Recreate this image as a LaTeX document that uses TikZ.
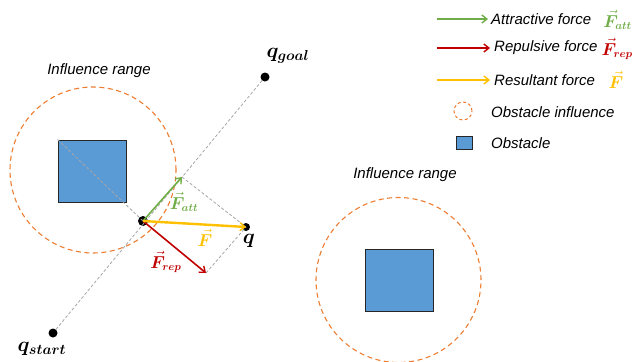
\documentclass[tikz,border=0pt]{standalone}
\usepackage{fontspec}
\usepackage{amsmath,bm}
\setmainfont{Liberation Sans}
\usetikzlibrary{arrows.meta}
\definecolor{attc}{HTML}{70AD47}
\definecolor{repc}{HTML}{C00000}
\definecolor{resc}{HTML}{FFC000}
\definecolor{infc}{HTML}{ED7D31}
\definecolor{obsc}{HTML}{5B9BD5}
\definecolor{guide}{HTML}{A6A6A6}
\tikzset{
  x=1pt, y=-1pt,
  guideline/.style={draw=guide, line width=0.8pt, dash pattern=on 3pt off 2pt},
  influence/.style={draw=infc, line width=1.1pt, dash pattern=on 5pt off 3.5pt},
  obstacle/.style={draw=black!85, line width=1pt, fill=obsc, minimum width=68pt, minimum height=62pt, inner sep=0pt},
  dot/.style={circle, fill=black, inner sep=0pt, minimum size=#1},
  force/.style={line width=1.6pt, -{Straight Barb[length=5pt,width=8pt,line width=1.4pt]}},
  lbl/.style={font=\fontsize{15}{18}\selectfont\itshape, inner sep=0pt},
  vlbl/.style={font=\fontsize{16}{19}\selectfont, inner sep=0pt},
  plbl/.style={font=\fontsize{21}{24}\selectfont, inner sep=0pt},
}
\newcommand{\vF}{\vec{\bm{F}}}
\begin{document}
\begin{tikzpicture}
\useasboundingbox (0,0) rectangle (633,362);

% obstacles and their influence ranges
\node[obstacle] (obsL) at (92,171) {};
\node[obstacle] (obsR) at (399,280) {};
\draw[influence] (93,170) circle[radius=83pt];
\draw[influence] (398.5,280) circle[radius=82.5pt];
\node[lbl] (rangeL) at (99,71) {Influence range};
\node[lbl] (rangeR) at (405,175) {Influence range};

% start, goal, robot and target points
\node[dot=9pt] (start) at (53,333) {};
\node[dot=9pt] (goal) at (265,77) {};
\node[dot=10pt] (rob) at (143,221) {};
\node[dot=8pt] (q) at (246,227) {};
\coordinate (fatt) at (182,177);
\coordinate (frep) at (206,273);

% guide lines
\draw[guideline] (start) -- (goal);
\draw[guideline] (obsL.north west) -- (rob.center);
\draw[guideline] (fatt) -- (q.center);
\draw[guideline] (frep) -- (q.center);

% force vectors
\draw[force, attc] (rob.center) -- (fatt);
\draw[force, repc] (rob.center) -- (frep);
\draw[force, resc, line width=2.4pt] (rob.center) -- (q.center);

% point labels
\node[plbl] (qlab) at (249,241) {$\bm{q}$};
\node[plbl] (qgoal) at (288,56) {$\bm{q}_{\bm{goal}}$};
\node[plbl] (qstart) at (42,349) {$\bm{q}_{\bm{start}}$};
\node[vlbl, text=attc] (latt) at (184,202) {$\vF_{\bm{att}}$};
\node[vlbl, text=resc] (lres) at (205,238) {$\vF$};
\node[vlbl, text=repc] (lrep) at (166,262) {$\vF_{\bm{rep}}$};

% legend
\coordinate (a1) at (437,19);  \coordinate (a2) at (488,19);
\coordinate (r1) at (437,48);  \coordinate (r2) at (490,48);
\coordinate (y1) at (437,80);  \coordinate (y2) at (490,80);
\draw[force, attc, line width=1.3pt] (a1) -- (a2);
\draw[force, repc, line width=1.3pt] (r1) -- (r2);
\draw[force, resc, line width=1.8pt] (y1) -- (y2);
\node[lbl, anchor=west] (tatt) at (491,19) {Attractive force};
\node[lbl, anchor=west] (trep) at (494,48) {Repulsive force};
\node[lbl, anchor=west] (tres) at (494,80) {Resultant force};
\node[lbl, anchor=west] (tinf) at (491,112) {Obstacle influence};
\node[lbl, anchor=west] (tobs) at (491,143) {Obstacle};
\node[vlbl, text=attc, anchor=east] (katt) at (632,20) {$\vF_{\bm{att}}$};
\node[vlbl, text=repc, anchor=east] (krep) at (633,49) {$\vF_{\bm{rep}}$};
\node[vlbl, text=resc] (kres) at (616,80) {$\vF$};
\draw[influence, line width=1pt, dash pattern=on 3pt off 2.5pt] (463,111) circle[radius=9pt];
\node[obstacle, minimum width=16pt, minimum height=13pt] (kobs) at (464,143) {};
\end{tikzpicture}
\end{document}
